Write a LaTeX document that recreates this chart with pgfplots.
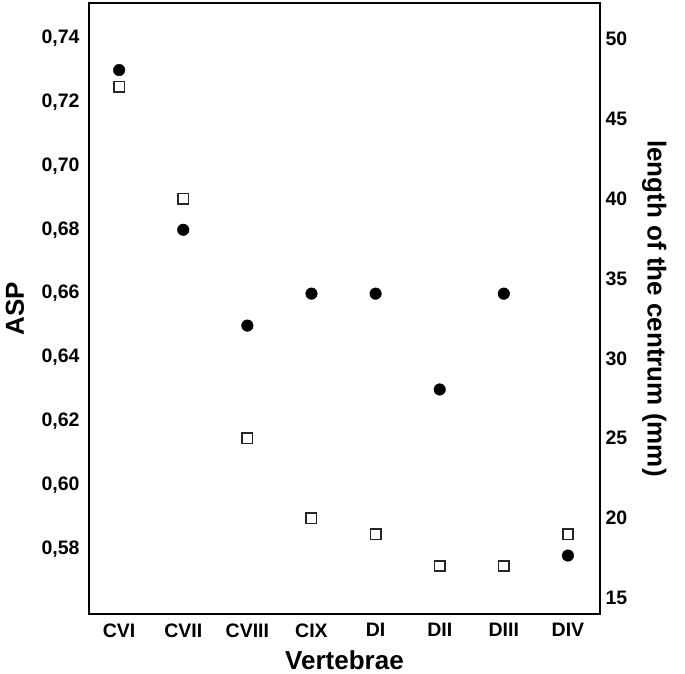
\documentclass[border=0pt]{standalone}
\usepackage{pgfplots}
\pgfplotsset{compat=1.18}
\usepackage{fontspec}
\setmainfont{Liberation Sans}
\newcommand{\tickfont}{\fontsize{19.5}{22}\selectfont\bfseries}
\newcommand{\labfont}{\fontsize{26}{30}\selectfont\bfseries}
\begin{document}
\begin{tikzpicture}
\begin{axis}[
  name=ax,
  scale only axis, width=511pt, height=611pt,
  xmin=-0.47, xmax=7.5, ymin=0.5597, ymax=0.751,
  xtick={0,1,2,3,4,5,6,7},
  xticklabels={CVI,CVII,CVIII,CIX,DI,DII,DIII,DIV},
  ytick={0.58,0.60,0.62,0.64,0.66,0.68,0.70,0.72,0.74},
  yticklabels={{0,58},{0,60},{0,62},{0,64},{0,66},{0,68},{0,70},{0,72},{0,74}},
  xtick pos=bottom, ytick pos=left,
  major tick length=0pt,
  axis line style={line width=2pt},
  tick label style={font=\tickfont},
  xticklabel style={yshift=-6pt},
  yticklabel style={xshift=-6pt},
  xlabel={Vertebrae}, ylabel={ASP},
  label style={font=\labfont},
  xlabel style={at={(axis description cs:0.5,-0.0753)}, anchor=center},
  ylabel style={at={(axis description cs:-0.145,0.5)}, anchor=center},
  clip=false,
]
\addplot[only marks, mark=*, mark size=5.8pt, mark options={fill=black, draw=black}]
  coordinates {(0,0.730) (1,0.680) (2,0.650) (3,0.660) (4,0.660) (5,0.630) (6,0.660) (7,0.578)};
\end{axis}
\begin{axis}[
  scale only axis, width=511pt, height=611pt,
  xmin=-0.47, xmax=7.5, ymin=14.0, ymax=52.25,
  axis x line=none, axis y line*=right,
  ytick={15,20,25,30,35,40,45,50},
  yticklabels={15,20,25,30,35,40,45,50},
  major tick length=0pt,
  axis line style={line width=2pt},
  tick label style={font=\tickfont},
  yticklabel style={xshift=2pt},
  ylabel={length of the centrum (mm)},
  label style={font=\labfont},
  ylabel style={at={(axis description cs:1.106,0.5)}, anchor=center, rotate=180},
  clip=false,
]
\addplot[only marks, mark=square*, mark size=5.2pt, mark options={fill=white, draw=black!85, line width=1.6pt}]
  coordinates {(0,47) (1,40) (2,25) (3,20) (4,19) (5,17) (6,17) (7,19)};
\end{axis}
\pgfresetboundingbox
\path[use as bounding box] ([shift={(-89pt,-60pt)}]ax.south west) rectangle ([shift={(85pt,3pt)}]ax.north east);
\end{tikzpicture}
\end{document}
